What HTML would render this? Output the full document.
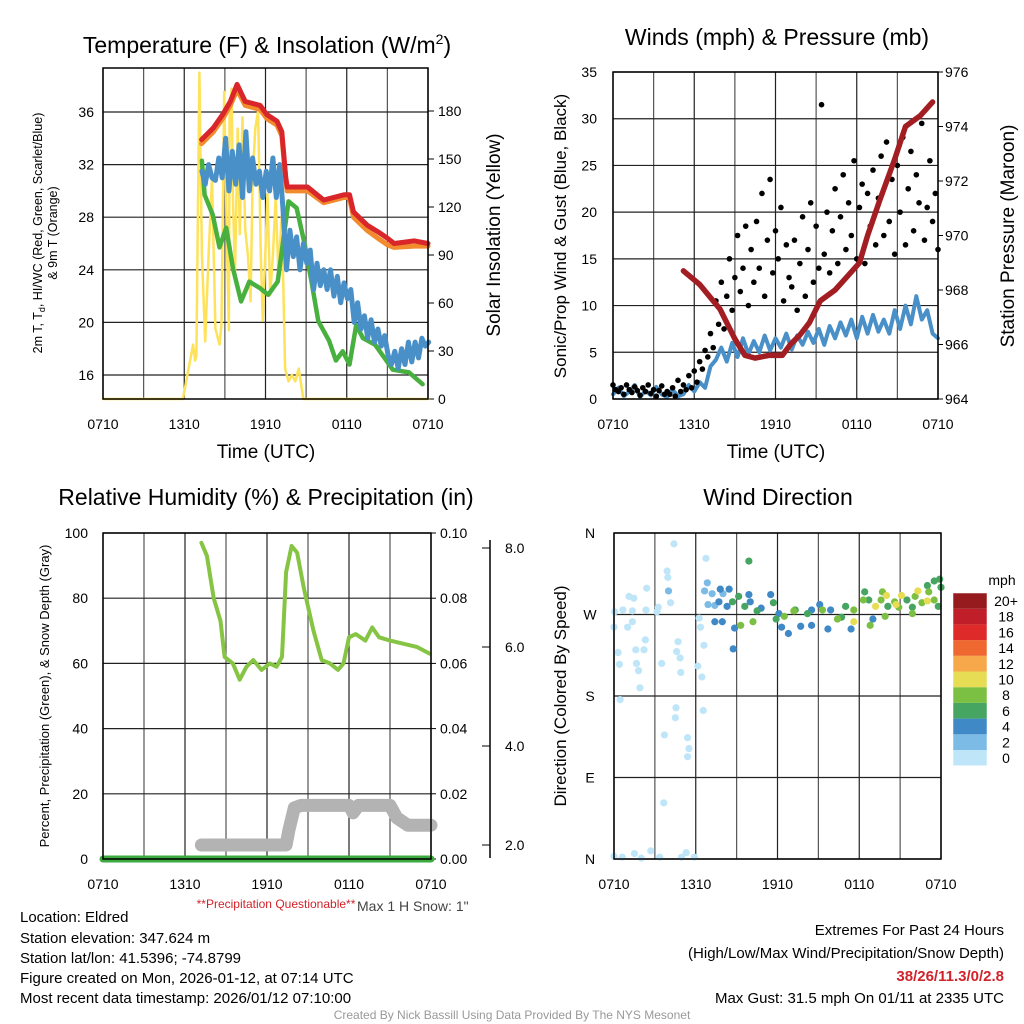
<!DOCTYPE html>
<html><head><meta charset="utf-8"><style>
html,body{margin:0;padding:0;background:#fff;width:1024px;height:1024px;overflow:hidden;font-family:"Liberation Sans",sans-serif;}
svg text{font-family:"Liberation Sans",sans-serif;}
</style></head><body>
<svg id="c" width="1024" height="1024" viewBox="0 0 1024 1024" xmlns="http://www.w3.org/2000/svg">
<g id="g"></g>
<text x="267" y="53" font-size="23" text-anchor="middle">Temperature (F) &amp; Insolation (W/m<tspan font-size="14" dy="-9">2</tspan><tspan dy="9">)</tspan></text>
<text x="777" y="45" font-size="23" text-anchor="middle">Winds (mph) &amp; Pressure (mb)</text>
<text x="266" y="505" font-size="23" text-anchor="middle">Relative Humidity (%) &amp; Precipitation (in)</text>
<text x="778" y="505" font-size="23" text-anchor="middle">Wind Direction</text>
<text x="266" y="458" font-size="19" text-anchor="middle">Time (UTC)</text>
<text x="776" y="458" font-size="19" text-anchor="middle">Time (UTC)</text>
<text transform="translate(42,233) rotate(-90)" font-size="12.5" text-anchor="middle">2m T, T<tspan font-size="9" dy="3">d</tspan><tspan dy="-3">, HI/WC (Red, Green, Scarlet/Blue)</tspan></text>
<text transform="translate(57,233) rotate(-90)" font-size="12.5" text-anchor="middle">&amp; 9m T (Orange)</text>
<text transform="translate(500,235) rotate(-90)" font-size="19" text-anchor="middle">Solar Insolation (Yellow)</text>
<text transform="translate(566,236) rotate(-90)" font-size="17" text-anchor="middle">Sonic/Prop Wind &amp; Gust (Blue, Black)</text>
<text transform="translate(1014,236) rotate(-90)" font-size="19" text-anchor="middle">Station Pressure (Maroon)</text>
<text transform="translate(49,696) rotate(-90)" font-size="13" text-anchor="middle">Percent, Precipitation (Green), &amp; Snow Depth (Gray)</text>
<text transform="translate(566,696) rotate(-90)" font-size="17" text-anchor="middle">Direction (Colored By Speed)</text>
<text x="276" y="908" font-size="12" fill="#d2232a" text-anchor="middle">**Precipitation Questionable**</text>
<text x="357" y="911" font-size="14" fill="#444">Max 1 H Snow: 1"</text>
<g font-size="15">
<text x="20" y="922">Location: Eldred</text>
<text x="20" y="943">Station elevation: 347.624 m</text>
<text x="20" y="963">Station lat/lon: 41.5396; -74.8799</text>
<text x="20" y="983">Figure created on Mon, 2026-01-12, at 07:14 UTC</text>
<text x="20" y="1003">Most recent data timestamp: 2026/01/12 07:10:00</text>
</g>
<g font-size="15" text-anchor="end">
<text x="1004" y="935">Extremes For Past 24 Hours</text>
<text x="1004" y="958">(High/Low/Max Wind/Precipitation/Snow Depth)</text>
<text x="1004" y="981" fill="#d2232a" font-weight="bold">38/26/11.3/0/2.8</text>
<text x="1004" y="1003">Max Gust: 31.5 mph On 01/11 at 2335 UTC</text>
</g>
<text x="512" y="1019" font-size="12" fill="#999" text-anchor="middle">Created By Nick Bassill Using Data Provided By The NYS Mesonet</text>
</svg>
<script>
// ---- data (hours since 0710 UTC) ----
const xTickLabels = ["0710","1310","1910","0110","0710"];
const tempTicks = [16,20,24,28,32,36];
const insolTicks = [0,30,60,90,120,150,180];
const windTicks = [0,5,10,15,20,25,30,35];
const presTicks = [964,966,968,970,972,974,976];
const rhTicks = [0,20,40,60,80,100];
const precipTicks = ["0.00","0.02","0.04","0.06","0.08","0.10"];
const snowTicks = ["2.0","4.0","6.0","8.0"];
const dirTicks = ["N","E","S","W","N"];
const speedLabels = ["0","2","4","6","8","10","12","14","16","18","20+"];
const speedColors = ["#bfe6f8","#7cbbe6","#3f89c7","#45a561","#7cc043","#e6dd55","#f7a84b","#ef6830","#de2b2a","#c01f2a","#951b1e"];

const redT = [7.28,8.15,8.9,9.4,9.9,10.5,11.6,12.1,12.85,13.2,13.5,13.6,15.1,16.3,17.8,18.2,18.5,19.5,20.3,21.0,21.5,23.0,24];
const redV = [33.9,34.8,35.9,36.8,38.1,36.8,36.5,35.8,35.3,34.5,31.0,30.3,30.3,29.3,29.7,29.7,28.4,27.4,26.9,26.4,26.0,26.2,26.0];
const orgV = [33.6,34.5,35.6,36.5,37.7,36.5,36.2,35.5,35.0,34.2,30.8,30.0,30.0,29.1,29.5,29.5,28.0,27.0,26.4,25.9,25.7,25.8,25.8];
const grnT = [7.3,7.5,8.1,8.6,9.1,9.6,10.2,10.8,11.6,12.2,12.9,13.7,14.3,14.9,15.4,15.9,16.7,17.2,17.7,18.2,18.7,19.2,20.1,21.4,22.6,23.6];
const grnV = [32.3,29.7,28.2,25.7,27.2,24.1,21.6,23.1,22.6,22.1,23.1,29.2,28.7,25.9,23.1,20.1,18.6,17.1,17.8,16.8,19.8,18.8,18.3,16.4,16.2,15.3];
const bluStart = 7.3;
const bluV = [31.5,30.5,32,31,30.8,32.5,31,34,30,33,30.5,33.5,29.5,34.5,30,32.5,30.5,31.5,29.5,31.5,30,32.5,29.5,32,28.5,24,27,25,26.5,24,26,24.5,25.5,22.5,24.5,22.8,24,22.5,24,22,23.5,21.5,23,21.8,22.5,20,21.5,19.5,20.5,18.8,20.2,18.5,19.5,18.2,19,17.5,16.8,17.8,16.5,18,16.8,18.5,17,18.5,17.3,18.8,18.2,18.5];
const solT = [0,5.9,6.65,6.8,6.9,7.12,7.3,7.55,7.8,8.05,8.3,8.6,8.75,8.95,9.15,9.3,9.35,9.5,9.6,9.75,9.95,10.1,10.3,10.5,10.7,10.9,11.05,11.25,11.45,11.65,11.8,11.95,12.15,12.35,12.55,12.75,12.95,13.2,13.45,13.7,13.95,14.2,14.45,14.8,24];
const solV = [0,0,34,24,27,204,90,36,90,138,44,34,47,192,99,43,176,194,124,78,169,103,176,106,90,61,138,169,180,90,49,82,128,65,90,126,78,115,19,11,15,11,19,0,0];

const gustStep = 0.2;
const gustV = [1.5,1.0,0.8,1.2,0.5,1.5,1.0,0.7,1.3,0.9,0.4,1.2,0.8,1.5,0.6,1.0,0.3,0.9,1.4,0.5,0.8,
0.5,1.2,0.3,2.0,0.8,1.5,1.0,2.5,1.2,3.0,1.8,4.0,3.2,5.2,4.5,
7.0,5.5,10.5,8.0,12.5,7.5,11.0,15.0,9.5,13.0,17.5,11.5,14.0,18.5,10.0,
16.0,12.5,19.0,14.0,22.0,11.0,17.0,23.5,13.5,18.0,15.0,20.5,10.5,16.5,13.0,
12.0,17.0,9.5,14.5,19.5,11.0,16.0,21.0,12.5,18.5,14.0,31.5,15.5,20.0,13.5,
18.0,22.5,14.5,19.5,24.0,16.0,21.0,17.5,25.5,15.0,20.5,23.0,14.5,22.0,18.5,
24.5,16.5,21.5,26.0,17.5,27.5,19.0,23.5,15.5,25.0,20.0,28.0,16.5,22.5,26.5,
18.0,24.0,21.0,29.5,17.0,20.5,25.5,19.0,22.0,16.0];
const windStep = 0.4;
const windV = [0.5,1.2,0.3,0.8,1.5,0.2,0.9,0.4,1.3,0.5,0.2,1.0,0.3,
0.5,1.5,0.8,1.8,1.2,3.5,4.2,5.5,4.0,6.0,4.5,6.5,4.8,6.2,5.0,6.8,5.2,6.5,5.5,7.0,5.3,6.8,5.8,7.2,6.0,7.5,5.8,7.8,6.5,8.2,6.8,8.5,6.5,8.8,7.0,9.0,7.2,8.5,7.0,9.5,7.5,10.0,8.0,11.0,8.5,9.5,7.0,6.5];
const presT = [5.2,6.4,7.9,9.0,9.75,10.5,11.5,12.5,13.1,13.8,14.5,15.3,16.4,17.3,18.2,18.8,19.7,20.8,21.6,22.7,23.6];
const presV = [968.7,968.2,967.3,966.2,965.6,965.5,965.6,965.6,966.0,966.35,966.8,967.6,968.0,968.5,969.0,970.0,971.3,972.8,974.0,974.4,974.9];

const rhT = [7.2,7.6,8.1,8.6,8.9,9.5,10.0,10.5,11.0,11.6,12.2,12.7,13.1,13.4,13.8,14.2,14.7,15.4,16.0,16.6,17.2,17.6,18.0,18.5,19.2,19.7,20.2,21.0,22.0,23.0,23.9];
const rhV = [97,93,80,73,62,60,55,59,61,58,60,59,62,88,96,94,83,70,61,60,58,60,68,69,67,71,68,67,66,65,63];
const snowT = [7.2,13.4,13.6,14.0,14.5,18.0,18.3,18.7,21.0,21.5,22.3,24];
const snowV = [2.0,2.0,2.3,2.75,2.8,2.8,2.65,2.8,2.8,2.55,2.4,2.4];
const precipT = [0,24];
const precipV = [0,0];

const dirT = [0,0.05,0.65,1.35,1.1,1.45,1.0,1.35,0.3,0.4,0.45,1.6,2.2,2.3,1.65,1.8,1.9,2.4,2.35,3.15,3.25,3.5,3.7,3.65,3.9,3.95,4.15,4.4,4.55,4.5,4.6,4.7,4.85,4.9,5.4,5.5,5.4,6.15,6.45,6.55,6.25,6.35,6.6,6.75,
0,0.6,1.5,2.0,2.7,3.35,4.95,5.3,5.9,
6.85,6.65,7.2,6.9,7.4,8.0,4.0,
7.8,8.45,7.7,8.3,8.85,8.75,7.95,7.4,9.9,10.0,11.5,10.8,12.1,12.3,12.8,13.7,14.5,15.1,14.5,15.7,15.9,17.4,19.0,
9.9,9.15,8.7,9.6,10.5,11.7,11.9,13.3,14.2,17.0,16.7,18.4,18.7,20.1,21.9,23.0,23.5,23.9,23.8,24.0,21.5,
9.3,10.2,12.5,13.2,15.3,16.4,17.6,18.3,18.8,19.7,19.6,19.9,20.6,20.9,21.9,22.1,22.6,23.1,23.5,
17.6,19.2,20.0,20.7,21.1,22.3,23.0];
const dirV = [256,273,275,274,290,288,256,262,228,215,176,231,231,242,216,208,189,299,275,273,278,216,137,62,318,311,283,348,167,156,229,240,222,206,134,122,113,213,201,164,266,256,236,332,
3,2,6,1,9,2,2,7,2,
305,296,293,281,280,293,296,
298,298,284,279,255,232,262,262,292,284,292,277,271,256,249,257,275,281,258,254,275,254,265,
329,290,284,279,274,283,265,275,271,279,267,295,286,279,278,302,307,309,279,300,286,
258,262,268,274,275,265,275,286,258,295,286,268,284,278,271,290,283,295,286,
262,279,291,281,291,296,285];
const dirS = [0,0,0,0,0,0,0,0,0,0,0,0,0,0,0,0,0,0,0,0,0,0,0,0,0,0,0,0,0,0,0,0,0,0,0,0,0,0,0,0,0,0,0,0,
0,0,0,0,0,0,0,0,0,
2,2,2,2,2,2,2,
4,4,4,4,4,4,4,4,4,4,4,4,4,4,4,4,4,4,4,4,4,4,4,
6,6,6,6,6,6,6,6,6,6,6,6,6,6,6,6,6,6,6,6,6,
8,8,8,8,8,8,8,8,8,8,8,8,8,8,8,8,8,8,8,
10,10,10,10,10,10,10];

// ---- drawing ----
const NS="http://www.w3.org/2000/svg";
const G=document.getElementById('g');
function el(tag,attrs,parent,name,inter){
  const e=document.createElementNS(NS,tag);
  for(const k in attrs)e.setAttribute(k,attrs[k]);
  
  
  (parent||G).appendChild(e);return e;
}
function txt(x,y,s,size,anchor,name,fill){
  const t=el('text',{x:x,y:y,'font-size':size,'text-anchor':anchor||'middle',fill:fill||'#000'},G,name,false);
  t.textContent=s;return t;
}
function poly(pts,stroke,w,name,op){
  el('polyline',{points:pts.map(p=>p[0].toFixed(1)+','+p[1].toFixed(1)).join(' '),fill:'none',stroke:stroke,'stroke-width':w,'stroke-linejoin':'round','stroke-linecap':'round',opacity:op||1},G,name,false);
}
function panel(p,yticks,yf,name){
  for(let i=0;i<=8;i++){const x=p.x0+i*(p.x1-p.x0)/8;
    el('line',{x1:x,y1:p.y0,x2:x,y2:p.y1,stroke:i%2?'#555':'#222','stroke-width':1.2},G,name+'-vgrid',false);}
  yticks.forEach(v=>{const y=yf(v);el('line',{x1:p.x0,y1:y,x2:p.x1,y2:y,stroke:'#222','stroke-width':1.2},G,name+'-hgrid',false);});
  xTickLabels.forEach((s,i)=>{txt(p.x0+i*(p.x1-p.x0)/4,p.y1+30,s,14,'middle',name+'-x-tick-label');});
}
function frame(p,name){el('rect',{x:p.x0,y:p.y0,width:p.x1-p.x0,height:p.y1-p.y0,fill:'none',stroke:'#000','stroke-width':1.5},G,name+'-frame',false);}

// Panel 1
const P1={x0:103,x1:428,y0:68,y1:399};
const x1f=h=>P1.x0+h/24*(P1.x1-P1.x0);
const tY=v=>375-(v-16)*13.15;
const sY=v=>399-v*1.6;
panel(P1,tempTicks,tY,'temp');
tempTicks.forEach(v=>txt(94,tY(v)+5,String(v),14,'end','temp-y-tick-label'));
insolTicks.forEach(v=>{txt(438,sY(v)+5,String(v),14,'start','insol-y-tick-label');el('line',{x1:P1.x1,y1:sY(v),x2:P1.x1+6,y2:sY(v),stroke:'#000'},G,'insol-tick',false);});
poly(solT.map((h,i)=>[x1f(h),sY(solV[i])]),'#fde25a',2.5,'insolation-line');
poly(grnT.map((h,i)=>[x1f(h),tY(grnV[i])]),'#47b03f',4.5,'dewpoint-line');
poly(bluV.map((v,i)=>[x1f(bluStart+i*0.25),tY(v)]),'#4a90c8',5,'windchill-line');
poly(redT.map((h,i)=>[x1f(h),tY(orgV[i])]),'#f28a2e',5,'temp-9m-line');
poly(redT.map((h,i)=>[x1f(h),tY(redV[i])]),'#d9262a',5,'temp-2m-line');
frame(P1,'temp');

// Panel 2
const P2={x0:613,x1:938,y0:72,y1:399};
const x2f=h=>P2.x0+h/24*(P2.x1-P2.x0);
const wY=v=>399-v*(327/35);
const pY=v=>399-(v-964)*27.25;
panel(P2,windTicks,wY,'winds');
windTicks.forEach(v=>txt(597,wY(v)+5,String(v),14,'end','wind-y-tick-label'));
presTicks.forEach(v=>{txt(945,pY(v)+5,String(v),14,'start','pressure-y-tick-label');el('line',{x1:P2.x1,y1:pY(v),x2:P2.x1+5,y2:pY(v),stroke:'#000'},G,'pressure-tick',false);});
poly(windV.map((v,i)=>[x2f(i*windStep),wY(v)]),'#4a90c8',4,'wind-speed-line');
gustV.forEach((v,i)=>{el('circle',{cx:x2f(i*gustStep),cy:wY(v),r:2.8,fill:'#000'},G,'gust-point',false);});
poly(presT.map((h,i)=>[x2f(h),pY(presV[i])]),'#a31e22',5.5,'pressure-line');
frame(P2,'winds');

// Panel 3
const P3={x0:103,x1:431,y0:533,y1:859};
const x3f=h=>P3.x0+h/24*(P3.x1-P3.x0);
const rY=v=>859-v*3.26;
const snY=v=>845-(v-2)*49.5;
panel(P3,rhTicks,rY,'humidity');
rhTicks.forEach(v=>txt(88,rY(v)+5,String(v),14,'end','rh-y-tick-label'));
precipTicks.forEach((s,i)=>{const y=rY(i*20);txt(440,y+5,s,14,'start','precip-y-tick-label');el('line',{x1:P3.x1,y1:y,x2:P3.x1+5,y2:y,stroke:'#000'},G,'precip-tick',false);});
el('line',{x1:490,y1:540,x2:490,y2:858,stroke:'#000','stroke-width':1.5},G,'snow-axis-line',false);
snowTicks.forEach(s=>{const y=snY(parseFloat(s));txt(505,y+5,s,14,'start','snow-y-tick-label');el('line',{x1:482,y1:y,x2:490,y2:y,stroke:'#000'},G,'snow-tick',false);});
poly(snowT.map((h,i)=>[x3f(h),snY(snowV[i])]),'#b3b3b3',13,'snow-depth-line');
poly(precipT.map((h,i)=>[x3f(h),rY(precipV[i]*1000)]),'#3daa3f',7,'precip-line');
poly(rhT.map((h,i)=>[x3f(h),rY(rhV[i])]),'#86c443',4,'rh-line');
frame(P3,'humidity');

// Panel 4
const P4={x0:614,x1:941,y0:533,y1:859};
const x4f=h=>P4.x0+h/24*(P4.x1-P4.x0);
const dY=v=>859-v/360*326;
panel(P4,[0,90,180,270,360],dY,'direction');
dirTicks.forEach((s,i)=>txt(590,dY(i*90)+5,s,14,'middle','direction-y-tick-label'));
dirT.forEach((h,i)=>{el('circle',{cx:x4f(h),cy:dY(dirV[i]),r:3.6,fill:speedColors[dirS[i]/2]},G,'direction-point',false);});
frame(P4,'direction');
// colorbar
txt(1002,585,'mph',14,'middle','colorbar-title');
speedLabels.forEach((s,i)=>{const y=593+(10-i)*15.7;
  el('rect',{x:953,y:y,width:34,height:15.7,fill:speedColors[i]},G,'colorbar-swatch',false);
  txt(1006,y+13,s,14,'middle','colorbar-label');});
el('rect',{x:953,y:593,width:34,height:172.7,fill:'none',stroke:'#fff','stroke-width':0.5},G,'colorbar-frame',false);
</script>
</body></html>
